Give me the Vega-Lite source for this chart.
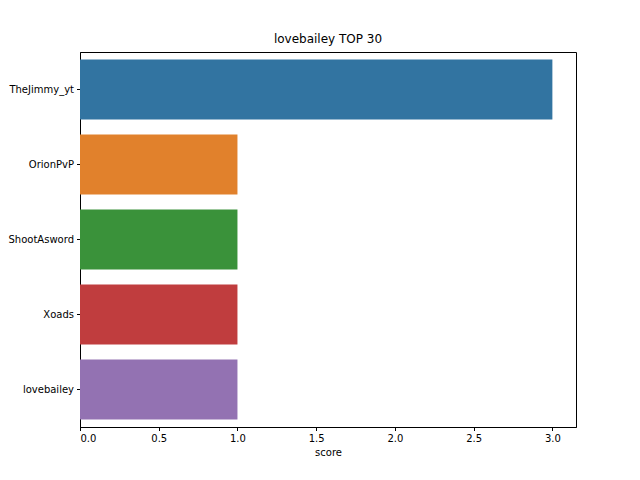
{
  "$schema": "https://vega.github.io/schema/vega-lite/v6.json",
  "autosize": "none",
  "width": 496,
  "height": 375,
  "padding": {"left": 80, "top": 52, "right": 64, "bottom": 53},
  "background": "white",
  "title": {"text": "lovebailey TOP 30", "font": "DejaVu Sans", "fontSize": 12, "fontWeight": "normal", "offset": 6},
  "data": {
    "values": [
      {"name": "TheJimmy_yt", "score": 3},
      {"name": "OrionPvP", "score": 1},
      {"name": "ShootAsword", "score": 1},
      {"name": "Xoads", "score": 1},
      {"name": "lovebailey", "score": 1}
    ]
  },
  "mark": {"type": "bar"},
  "encoding": {
    "y": {
      "field": "name", "type": "nominal", "sort": null, "title": null,
      "scale": {"paddingInner": 0.2, "paddingOuter": 0.1}
    },
    "x": {
      "field": "score", "type": "quantitative", "title": "score",
      "scale": {"domain": [0, 3.15], "nice": false},
      "axis": {"values": [0, 0.5, 1, 1.5, 2, 2.5, 3], "format": ".1f", "grid": false}
    },
    "color": {
      "field": "name", "type": "nominal", "sort": null, "legend": null,
      "scale": {"range": ["#3274a1", "#e1812c", "#3a923a", "#c03d3e", "#9372b2"]}
    }
  },
  "config": {
    "view": {"stroke": "black", "strokeWidth": 1},
    "axis": {
      "labelFont": "DejaVu Sans", "titleFont": "DejaVu Sans", "labelFontSize": 10, "titleFontSize": 10,
      "titleFontWeight": "normal", "labelColor": "black", "titleColor": "black",
      "domainColor": "black", "tickColor": "black", "tickSize": 3.5, "labelPadding": 3
    }
  }
}
